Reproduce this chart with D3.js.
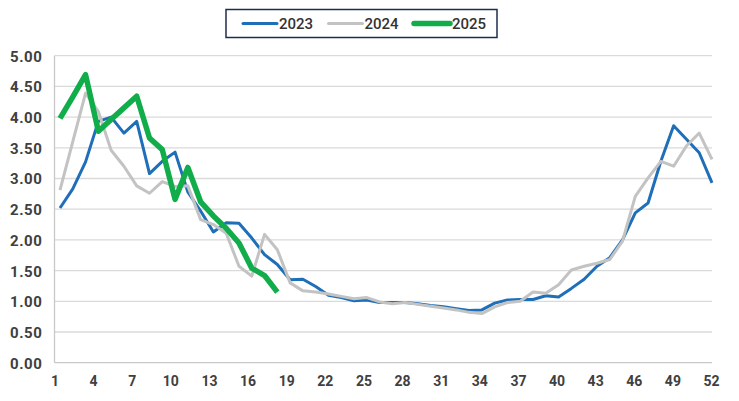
<!DOCTYPE html>
<html><head><meta charset="utf-8">
<script src="https://cdn.jsdelivr.net/npm/d3@7"></script>
<style>
body{margin:0;background:#fff;}
svg{display:block;}
.tick text{font-family:Roboto,"Liberation Sans",sans-serif;font-weight:700;fill:#404040;}
</style></head>
<body><svg id="c" width="739" height="401"></svg>
<script>
const weeks = d3.range(1, 53);
const xTicks = [1,4,7,10,13,16,19,22,25,28,31,34,37,40,43,46,49,52];
const yTicks = [0,0.5,1,1.5,2,2.5,3,3.5,4,4.5,5];
const seriesNames = ["2023","2024","2025"];
const s2023 = [2.52,2.83,3.27,3.93,4.00,3.74,3.93,3.08,3.28,3.43,
               2.78,2.47,2.13,2.28,2.27,2.03,1.76,1.60,1.35,1.36,
               1.24,1.10,1.06,1.01,1.02,0.98,0.98,0.98,0.96,0.93,
               0.91,0.88,0.85,0.86,0.97,1.02,1.03,1.03,1.09,1.07,
               1.21,1.36,1.57,1.71,2.00,2.44,2.60,3.28,3.86,3.64,
               3.42,2.93];
const s2024 = [2.81,3.60,4.39,4.09,3.46,3.20,2.88,2.76,2.95,2.87,
               2.88,2.33,2.25,2.11,1.57,1.41,2.09,1.84,1.30,1.17,
               1.15,1.12,1.08,1.04,1.06,0.99,0.96,0.98,0.95,0.92,
               0.89,0.86,0.82,0.80,0.91,0.98,1.00,1.15,1.13,1.27,
               1.51,1.57,1.62,1.68,1.98,2.71,3.01,3.28,3.20,3.53,
               3.74,3.31];
const s2025 = [3.98,4.33,4.69,3.77,3.96,4.15,4.34,3.66,3.47,2.66,
               3.18,2.62,2.39,2.19,1.95,1.54,1.42,1.15];

const colors = ["#1f6fb8","#c3c3c3","#12ad4b"];
const widths = [3,3,5.5];
const svg = d3.select("#c");
const pL = 54.5, pR = 712, pT = 55.7, pB = 362.7;
const x = d3.scaleLinear().domain([1,52]).range([60,712]);
const xLab = d3.scaleLinear().domain([1,52]).range([54.5,711]);
const y = d3.scaleLinear().domain([0,5]).range([pB, pT]);

// gridlines
svg.append("g").selectAll("line").data(yTicks).join("line")
  .attr("x1", pL).attr("x2", pR)
  .attr("y1", d=>y(d)).attr("y2", d=>y(d))
  .attr("stroke", d=> d===0 ? "#c8c8c8" : "#dadada").attr("stroke-width", 1.3);
svg.append("line").attr("x1", pL).attr("x2", pL).attr("y1", pT).attr("y2", pB)
  .attr("stroke","#c8c8c8").attr("stroke-width",1.3);

// axes
const ya = svg.append("g").attr("transform",`translate(${pL},0)`)
  .call(d3.axisLeft(y).tickValues(yTicks).tickFormat(d3.format(".2f")).tickSize(0).tickPadding(12));
ya.select(".domain").remove();
ya.selectAll("text").style("font-size","15px").style("letter-spacing","0.6px").attr("dy","0.36em");

const xa = svg.append("g").attr("transform",`translate(0,${pB})`)
  .call(d3.axisBottom(xLab).tickValues(xTicks).tickFormat(d3.format("d")).tickSize(0).tickPadding(13));
xa.select(".domain").remove();
xa.selectAll("text").style("font-size","14px");

// lines
const line = d3.line().x((d,i)=>x(weeks[i])).y(d=>y(d));
const data = [s2023, s2024, s2025];
svg.append("g").selectAll("path").data(data).join("path")
  .attr("d", d=>line(d)).attr("fill","none")
  .attr("stroke",(d,i)=>colors[i]).attr("stroke-width",(d,i)=>widths[i])
  .attr("stroke-linejoin","round").attr("stroke-linecap","butt");

// legend
const lg = svg.append("g");
lg.append("rect").attr("x",226).attr("y",9.5).attr("width",271).attr("height",28)
  .attr("fill","#fff").attr("stroke","#1f2d4d").attr("stroke-width",1.5);
const lx = [243, 328.5, 414];
seriesNames.forEach((n,i)=>{
  lg.append("line").attr("x1",lx[i]).attr("x2",lx[i]+(i===2?36:34)).attr("y1",23.5).attr("y2",23.5)
    .attr("stroke",colors[i]).attr("stroke-width",widths[i]).attr("stroke-linecap","round");
  lg.append("text").attr("x",lx[i]+(i===2?38:36)).attr("y",29)
    .style("font-family","Roboto, sans-serif").style("font-weight","500").style("font-size","15px")
    .attr("fill","#333").text(n);
});
</script></body></html>
